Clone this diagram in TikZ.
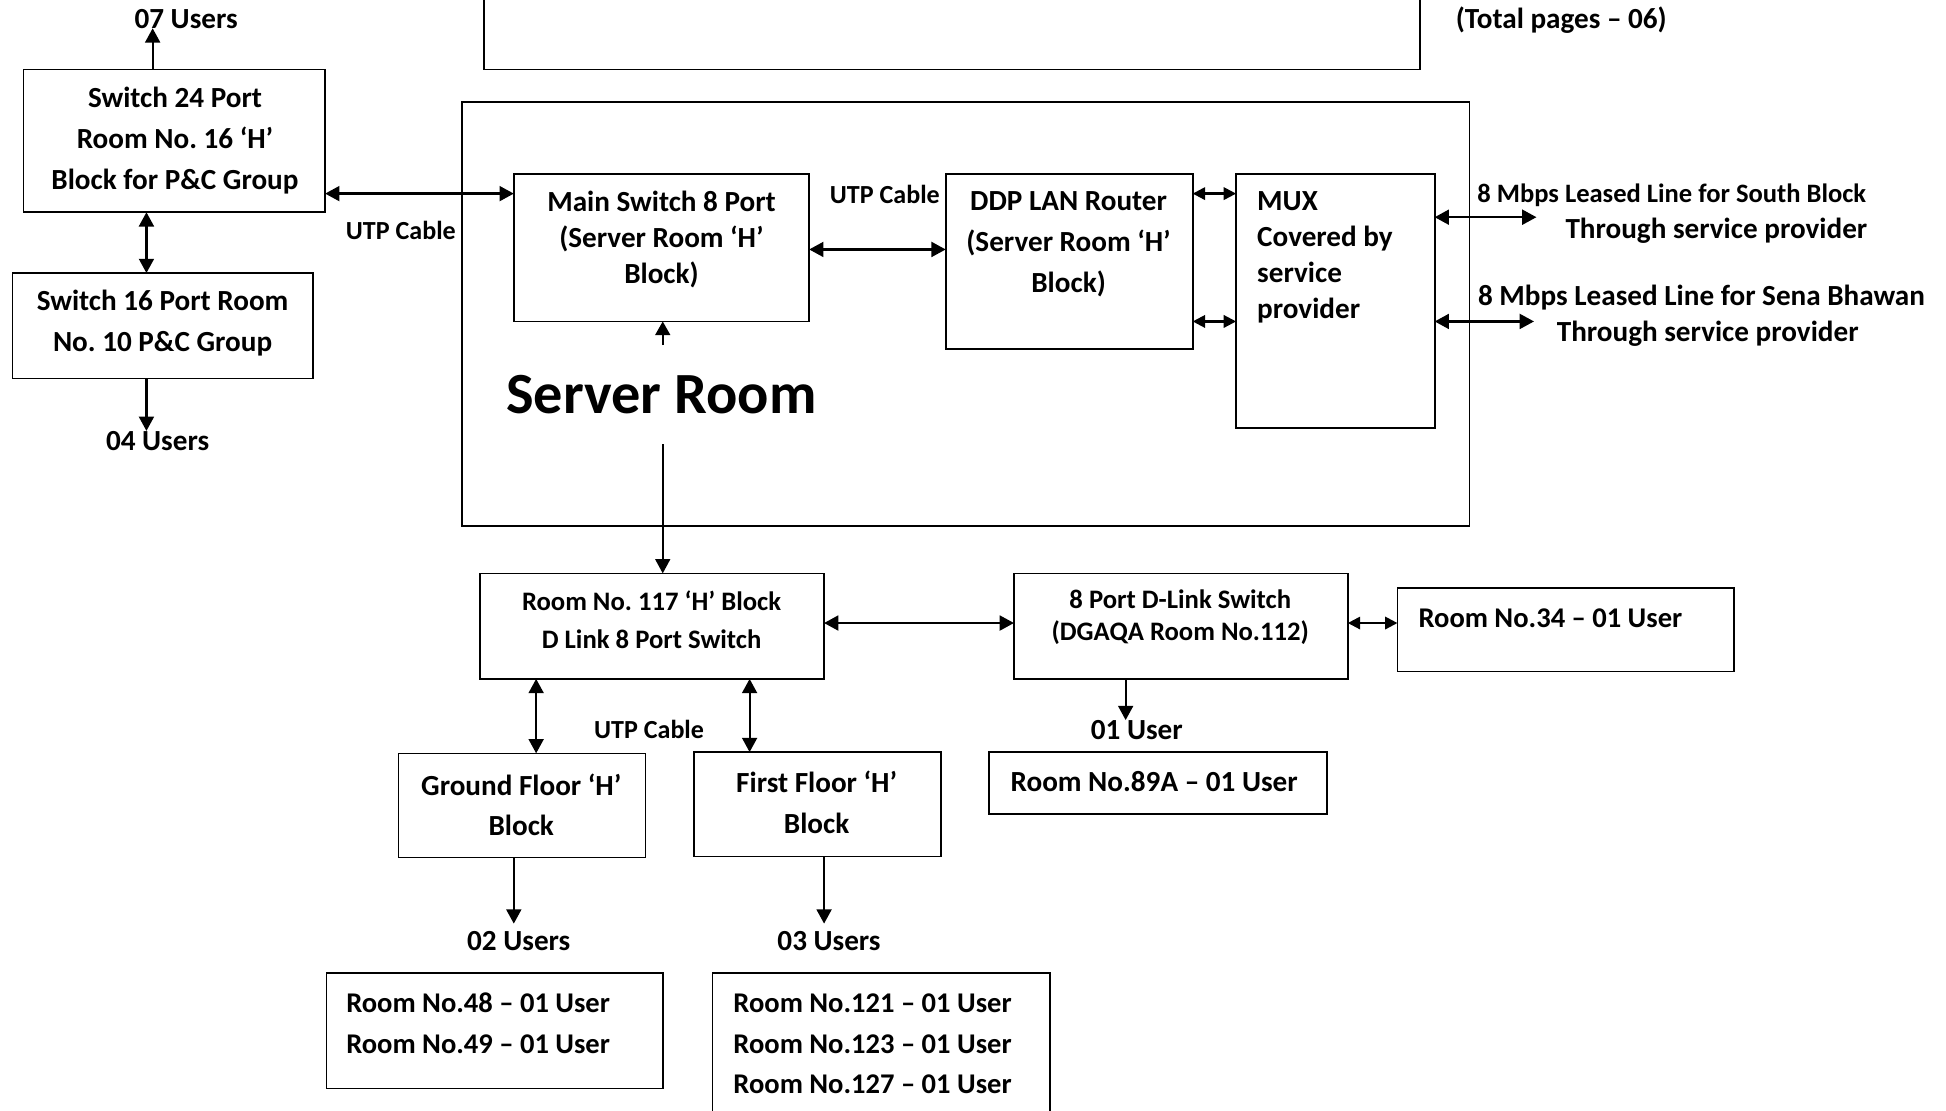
\documentclass[tikz,border=0pt]{standalone}
\usepackage{fontspec}
\setmainfont{Carlito}
\usetikzlibrary{arrows.meta,fit}
\newcommand\myfs[2]{\fontsize{#1}{#2}\selectfont\bfseries\frenchspacing}
\begin{document}
\begin{tikzpicture}[x=1pt,y=-1pt,
  box/.style={draw, line width=1.35pt, inner sep=0pt, outer sep=0pt},
  txt/.style={inner sep=0pt, outer sep=0pt, align=center, font=\myfs{23.5}{33}},
  ltxt/.style={inner sep=0pt, outer sep=0pt, align=left, anchor=west, font=\myfs{23}{33}},
  arr/.style={-{Triangle[length=11.5pt,width=12pt]}, line width=1.8pt},
  darr/.style={{Triangle[length=11.5pt,width=12pt]}-{Triangle[length=11.5pt,width=12pt]}, line width=1.8pt},
  sdarr/.style={{Triangle[length=10pt,width=10pt]}-{Triangle[length=10pt,width=10pt]}, line width=1.8pt},
  sarr/.style={-{Triangle[length=11pt,width=12pt]}, line width=1.6pt}]
\useasboundingbox (0,0) rectangle (1568,895);
\clip (0,0) rectangle (1568,895);
% boxes
\node[box, fit={(390,-20) (1144,56)}] (top) {};
\node[box, fit={(19,56) (262,171)}] (sw24) {};
\node[box, fit={(10,220) (252,305)}] (sw16) {};
\node[box, fit={(372,82) (1184,424)}] (srv) {};
\node[box, fit={(414,140) (652,259)}] (main) {};
\node[box, fit={(762,140) (961,281)}] (ddp) {};
\node[box, fit={(996,140) (1156,345)}] (mux) {};
\node[box, fit={(387,462) (664,547)}] (r117) {};
\node[box, fit={(817,462) (1086,547)}] (dlink) {};
\node[box, fit={(1126,474) (1397,541)}] (r34) {};
\node[box, fit={(797,606) (1069,656)}] (r89) {};
\node[box, fit={(321,607) (520,691)}] (gf) {};
\node[box, fit={(559,606) (758,690)}] (ff) {};
\node[box, fit={(263,784) (534,877)}] (r48) {};
\node[box, fit={(574,784) (846,930)}] (r121) {};
% texts
\node[txt] (u07) at (150,15) {07 Users};
\node[txt] (tot) at (1258,16) {(Total pages – 06)};
\node[txt] (sw24t) at (141,113) {Switch 24 Port\\Room No. 16 ‘H’\\Block for P\&C Group};
\node[txt] (sw16t) at (131,260.5) {Switch 16 Port Room\\No. 10 P\&C Group};
\node[txt, font=\myfs{21}{30}] (utp1) at (323,186) {UTP Cable};
\node[txt] (u04) at (127,355) {04 Users};
\node[txt, font=\myfs{23.5}{29}] (maint) at (533,193) {Main Switch 8 Port\\(Server Room ‘H’\\Block)};
\node[txt, font=\myfs{47}{50}] (srvl) at (533,318) {Server Room};
\node[txt, font=\myfs{21}{30}] (utp2) at (713,157) {UTP Cable};
\node[txt] (ddpt) at (861,197) {DDP LAN Router\\(Server Room ‘H’\\Block)};
\node[ltxt, font=\myfs{23.5}{29}] (muxt) at (1013,207.5) {MUX\\Covered by\\service\\provider};
\node[txt, font=\myfs{21.4}{30}] (sb1) at (1347,157) {8 Mbps Leased Line for South Block};
\node[txt] (sb2) at (1383,186) {Through service provider};
\node[txt] (sn1) at (1371,240) {8 Mbps Leased Line for Sena Bhawan};
\node[txt] (sn2) at (1376,269) {Through service provider};
\node[txt, font=\myfs{21.5}{31}] (r117t) at (525,499.5) {Room No. 117 ‘H’ Block\\D Link 8 Port Switch};
\node[txt, font=\myfs{21.5}{26}] (dlinkt) at (951,497) {8 Port D-Link Switch\\(DGAQA Room No.112)};
\node[ltxt] (r34t) at (1143,498) {Room No.34 – 01 User};
\node[txt] (u01) at (916,588) {01 User};
\node[txt] (r89t) at (930,630) {Room No.89A – 01 User};
\node[txt, font=\myfs{21}{30}] (utp3) at (523,588) {UTP Cable};
\node[txt] (gft) at (420,648.5) {Ground Floor ‘H’\\Block};
\node[txt] (fft) at (658,646.5) {First Floor ‘H’\\Block};
\node[txt] (u02) at (418,758) {02 Users};
\node[txt] (u03) at (668,758) {03 Users};
\node[ltxt] (r48t) at (279,824.5) {Room No.48 – 01 User\\Room No.49 – 01 User};
\node[ltxt] (r121t) at (591,841) {Room No.121 – 01 User\\Room No.123 – 01 User\\Room No.127 – 01 User};
% free ends
\coordinate (sbend) at (1238,175);
\coordinate (snend) at (1236,259);
\coordinate (upstart) at (534,278);
\coordinate (downstart) at (534,358);
% connectors
\draw[arr] (sw24.north -| 123,0) -- (u07.south -| 123,0);
\draw[darr] (sw24.east |- 0,156) -- (main.west |- 0,156);
\draw[darr] (sw24.south -| 118,0) -- (sw16.north -| 118,0);
\draw[arr] (sw16.south -| 118,0) -- (u04.north -| 118,0);
\draw[darr] (main.east |- 0,201) -- (ddp.west |- 0,201);
\draw[sdarr] (ddp.east |- 0,156) -- (mux.west |- 0,156);
\draw[sdarr] (ddp.east |- 0,259) -- (mux.west |- 0,259);
\draw[darr] (mux.east |- sbend) -- (sbend);
\draw[darr] (mux.east |- snend) -- (snend);
\draw[sarr] (upstart) -- (main.south -| upstart);
\draw[arr, line width=1.5pt] (downstart) -- (r117.north -| downstart);
\draw[darr] (r117.east |- 0,502) -- (dlink.west |- 0,502);
\draw[sdarr] (dlink.east |- 0,502) -- (r34.west |- 0,502);
\draw[arr] (dlink.south -| 907,0) -- (u01.north -| 907,0);
\draw[darr] (r117.south -| 432,0) -- (gf.north -| 432,0);
\draw[darr] (r117.south -| 604,0) -- (ff.north -| 604,0);
\draw[arr, shorten >=6pt] (gf.south -| 414,0) -- (u02.north -| 414,0);
\draw[arr, shorten >=6pt] (ff.south -| 664,0) -- (u03.north -| 664,0);
\end{tikzpicture}
\end{document}
